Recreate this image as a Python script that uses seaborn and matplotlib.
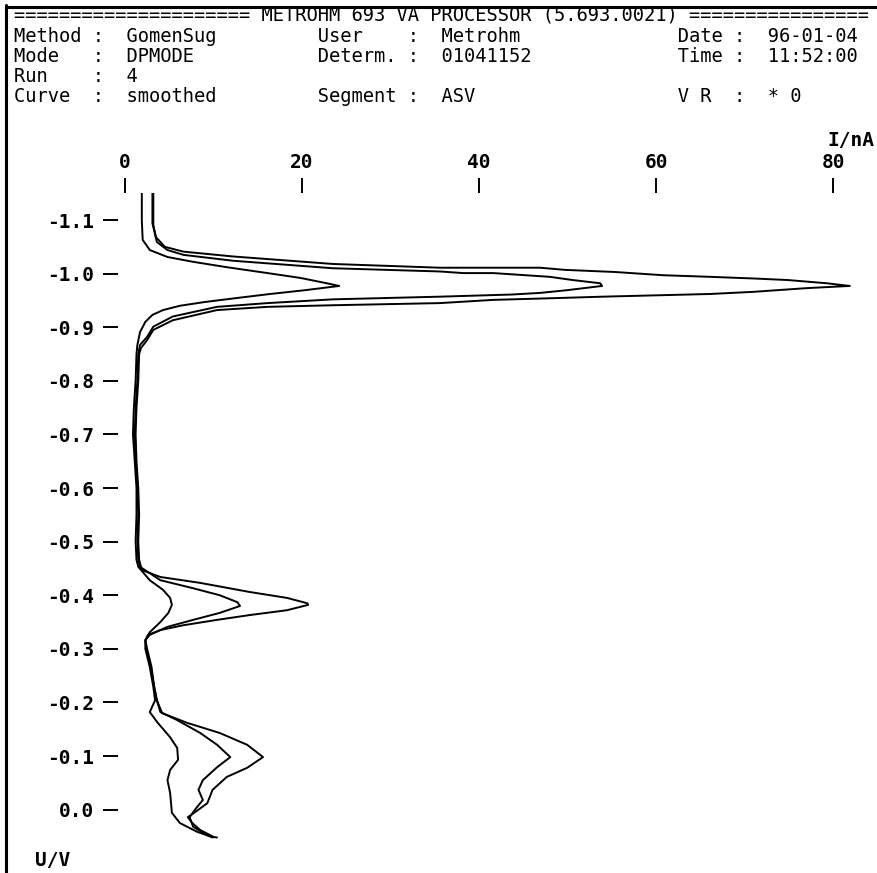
import matplotlib
matplotlib.use("Agg")
import matplotlib.pyplot as plt
from matplotlib.lines import Line2D
import pandas as pd
import seaborn as sns

# ---------------------------------------------------------------------------
# Three ASV scans: potential (V) and current (nA)

scan1_E = [-1.150, -1.100, -1.063, -1.044, -1.031, -1.022, -1.012, -1.001, -0.992, -0.982, -0.977,
           -0.969, -0.962, -0.954, -0.947, -0.940, -0.932, -0.923, -0.910, -0.891, -0.867,
           -0.850, -0.800, -0.750, -0.700, -0.650, -0.600, -0.550, -0.500, -0.466,
           -0.453, -0.428, -0.410, -0.395, -0.382, -0.367, -0.350, -0.331, -0.316,
           -0.300, -0.266, -0.229, -0.204,
           -0.182, -0.162, -0.135, -0.115, -0.093, -0.074, -0.055, -0.031, 0.006, 0.025, 0.041, 0.050, 0.052]
scan1_I = [1.9, 1.9, 2.0, 2.8, 4.8, 7.7, 11.5, 16.1, 19.8, 22.8, 24.2,
           20.3, 16.4, 12.4, 9.0, 6.2, 4.3, 3.1, 2.3, 1.7, 1.4,
           1.3, 1.2, 1.0, 0.9, 1.1, 1.3, 1.3, 1.2, 1.3,
           1.5, 2.8, 4.3, 5.1, 5.3, 4.9, 4.0, 2.8, 2.3,
           2.3, 2.8, 3.2, 3.4,
           2.8, 3.7, 5.1, 5.9, 6.0, 5.1, 4.8, 5.1, 5.3, 6.2, 8.1, 9.6, 10.4]

scan2_E = [-1.150, -1.094, -1.059, -1.044, -1.035, -1.024, -1.010, -1.004, -1.001, -1.001, -0.994, -0.988, -0.982, -0.977,
           -0.969, -0.964, -0.961, -0.957, -0.952, -0.945, -0.938, -0.920, -0.901, -0.882, -0.867,
           -0.850, -0.800, -0.750, -0.700, -0.650, -0.600, -0.550, -0.500, -0.466,
           -0.453, -0.428, -0.413, -0.400, -0.387, -0.380, -0.367, -0.354, -0.341, -0.326, -0.316,
           -0.300, -0.266, -0.229, -0.204,
           -0.182, -0.167, -0.143, -0.121, -0.098, -0.079, -0.055, -0.037, -0.018, -0.004, 0.014, 0.032, 0.043, 0.052]
scan2_I = [3.1, 3.1, 3.6, 4.8, 6.6, 12.2, 23.5, 35.6, 38.2, 41.6, 48.0, 50.6, 53.7, 53.9,
           49.9, 46.9, 43.7, 35.6, 23.5, 16.1, 10.4, 5.4, 3.2, 2.5, 1.7,
           1.5, 1.4, 1.2, 1.1, 1.2, 1.4, 1.5, 1.4, 1.5,
           1.7, 4.0, 7.7, 10.7, 12.7, 13.0, 10.7, 7.7, 4.8, 2.8, 2.3,
           2.4, 2.9, 3.3, 3.6,
           4.0, 5.9, 8.5, 10.4, 11.9, 10.4, 8.8, 8.3, 8.8, 8.1, 7.3, 7.7, 8.8, 9.9]

scan3_E = [-1.150, -1.091, -1.068, -1.050, -1.041, -1.032, -1.018, -1.011, -1.011, -1.007, -1.003, -0.997, -0.994, -0.991, -0.988, -0.982, -0.977,
           -0.973, -0.966, -0.962, -0.957, -0.954, -0.951, -0.945, -0.941, -0.938, -0.932, -0.913, -0.895, -0.876, -0.861,
           -0.850, -0.800, -0.750, -0.700, -0.650, -0.600, -0.550, -0.500, -0.466,
           -0.447, -0.434, -0.423, -0.406, -0.395, -0.385, -0.382, -0.372, -0.363, -0.354, -0.344, -0.335, -0.326, -0.316,
           -0.300, -0.266, -0.229, -0.204,
           -0.180, -0.162, -0.143, -0.121, -0.098, -0.078, -0.061, -0.037, -0.012, 0.005, 0.014, 0.025, 0.038, 0.050]
scan3_I = [3.2, 3.2, 3.5, 4.5, 6.6, 12.2, 23.5, 35.6, 46.9, 49.7, 55.4, 60.8, 66.1, 70.9, 74.9, 79.3, 81.9,
           77.1, 71.0, 66.1, 54.0, 48.0, 41.6, 35.6, 23.5, 16.1, 10.4, 5.4, 3.2, 2.5, 1.8,
           1.6, 1.5, 1.3, 1.2, 1.3, 1.5, 1.6, 1.5, 1.6,
           1.9, 4.0, 8.5, 14.1, 18.3, 20.6, 20.7, 18.3, 14.1, 10.4, 6.6, 4.0, 2.6, 2.3,
           2.5, 3.0, 3.3, 3.6,
           4.2, 7.0, 10.7, 13.8, 15.6, 13.8, 11.5, 9.9, 9.3, 7.9, 7.1, 7.6, 8.5, 9.9]

x_ticks = [0, 20, 40, 60, 80]
y_ticks = [-1.1, -1.0, -0.9, -0.8, -0.7, -0.6, -0.5, -0.4, -0.3, -0.2, -0.1, 0.0]

# header of the instrument printout
header_title = "METROHM 693 VA PROCESSOR (5.693.0021)"
header_rows = [
    [("Method", "GomenSug"), ("User", "Metrohm"), ("Date", "96-01-04")],
    [("Mode", "DPMODE"), ("Determ.", "01041152"), ("Time", "11:52:00")],
    [("Run", "4"), None, None],
    [("Curve", "smoothed"), ("Segment", "ASV"), ("V R", "* 0")],
]

# ---------------------------------------------------------------------------

W, H = 878, 873
MONO = "DejaVu Sans Mono"

sns.set_theme(style="white")
plt.rcParams["font.family"] = [MONO, "DejaVu Sans"]
plt.rcParams["axes.unicode_minus"] = False

df = pd.concat([
    pd.DataFrame({"E": scan1_E, "I": scan1_I, "scan": 1}),
    pd.DataFrame({"E": scan2_E, "I": scan2_I, "scan": 2}),
    pd.DataFrame({"E": scan3_E, "I": scan3_I, "scan": 3}),
], ignore_index=True)

fig = plt.figure(figsize=(W / 100, H / 100), dpi=100)
fig.patch.set_facecolor("white")

# axes placed so that 0 nA / -1.1 V land where the printout has them
ax = fig.add_axes([118 / W, 1 - 845 / H, 752 / W, 652 / H])
ax.set_facecolor("white")

sns.lineplot(data=df, x="I", y="E", units="scan", estimator=None, sort=False,
             color="black", linewidth=1.4, ax=ax)

ax.set_xlim(-0.79, 84.18)
ax.set_ylim(0.066, -1.1504)
ax.set_xlabel("")
ax.set_ylabel("")
for s in ax.spines.values():
    s.set_visible(False)

ax.xaxis.tick_top()
ax.set_xticks(x_ticks)
ax.set_xticklabels([str(v) for v in x_ticks], fontsize=14, fontweight="bold", family=MONO)
ax.set_yticks(y_ticks)
ax.set_yticklabels([f"{v:.1f}" for v in y_ticks], fontsize=14, fontweight="bold", family=MONO)
ax.tick_params(axis="x", which="major", direction="out", length=11, width=1.4,
               color="black", labelcolor="black", pad=4.0, top=True, bottom=False)
ax.tick_params(axis="y", which="major", direction="out", length=11, width=1.4,
               color="black", labelcolor="black", pad=6.0, left=True)
ax.grid(False)


def ftext(x, y, s, **kw):
    kw.setdefault("fontsize", 13.5)
    kw.setdefault("family", MONO)
    kw.setdefault("va", "center")
    kw.setdefault("ha", "left")
    fig.text(x / W, 1 - y / H, s, color="black", **kw)


# header laid out on the printer's character grid
cols = [(0, 7, 10), (27, 35, 38), (59, 64, 67)]


def grid_line(fields):
    line = ""
    for field, (c_lab, c_col, c_val) in zip(fields, cols):
        if field is None:
            continue
        label, value = field
        line = line.ljust(c_lab) + label
        line = line.ljust(c_col) + ":"
        line = line.ljust(c_val) + value
    return line


ftext(14, 15, "=" * 21 + " " + header_title + " " + "=" * 16)
for i, row in enumerate(header_rows):
    ftext(14, 36 + 20 * i, grid_line(row))

ftext(874, 140, "I/nA", ha="right", fontsize=14, fontweight="bold")
ftext(35, 860, "U/V", fontsize=14, fontweight="bold")

# page frame (top and left edge of the printout)
fig.add_artist(Line2D([6 / W, 1], [1 - 6.5 / H, 1 - 6.5 / H], transform=fig.transFigure,
                      color="black", linewidth=2.2))
fig.add_artist(Line2D([6.5 / W, 6.5 / W], [0, 1 - 5 / H], transform=fig.transFigure,
                      color="black", linewidth=2.2))

fig.savefig("out.png", dpi=100, facecolor="white")
